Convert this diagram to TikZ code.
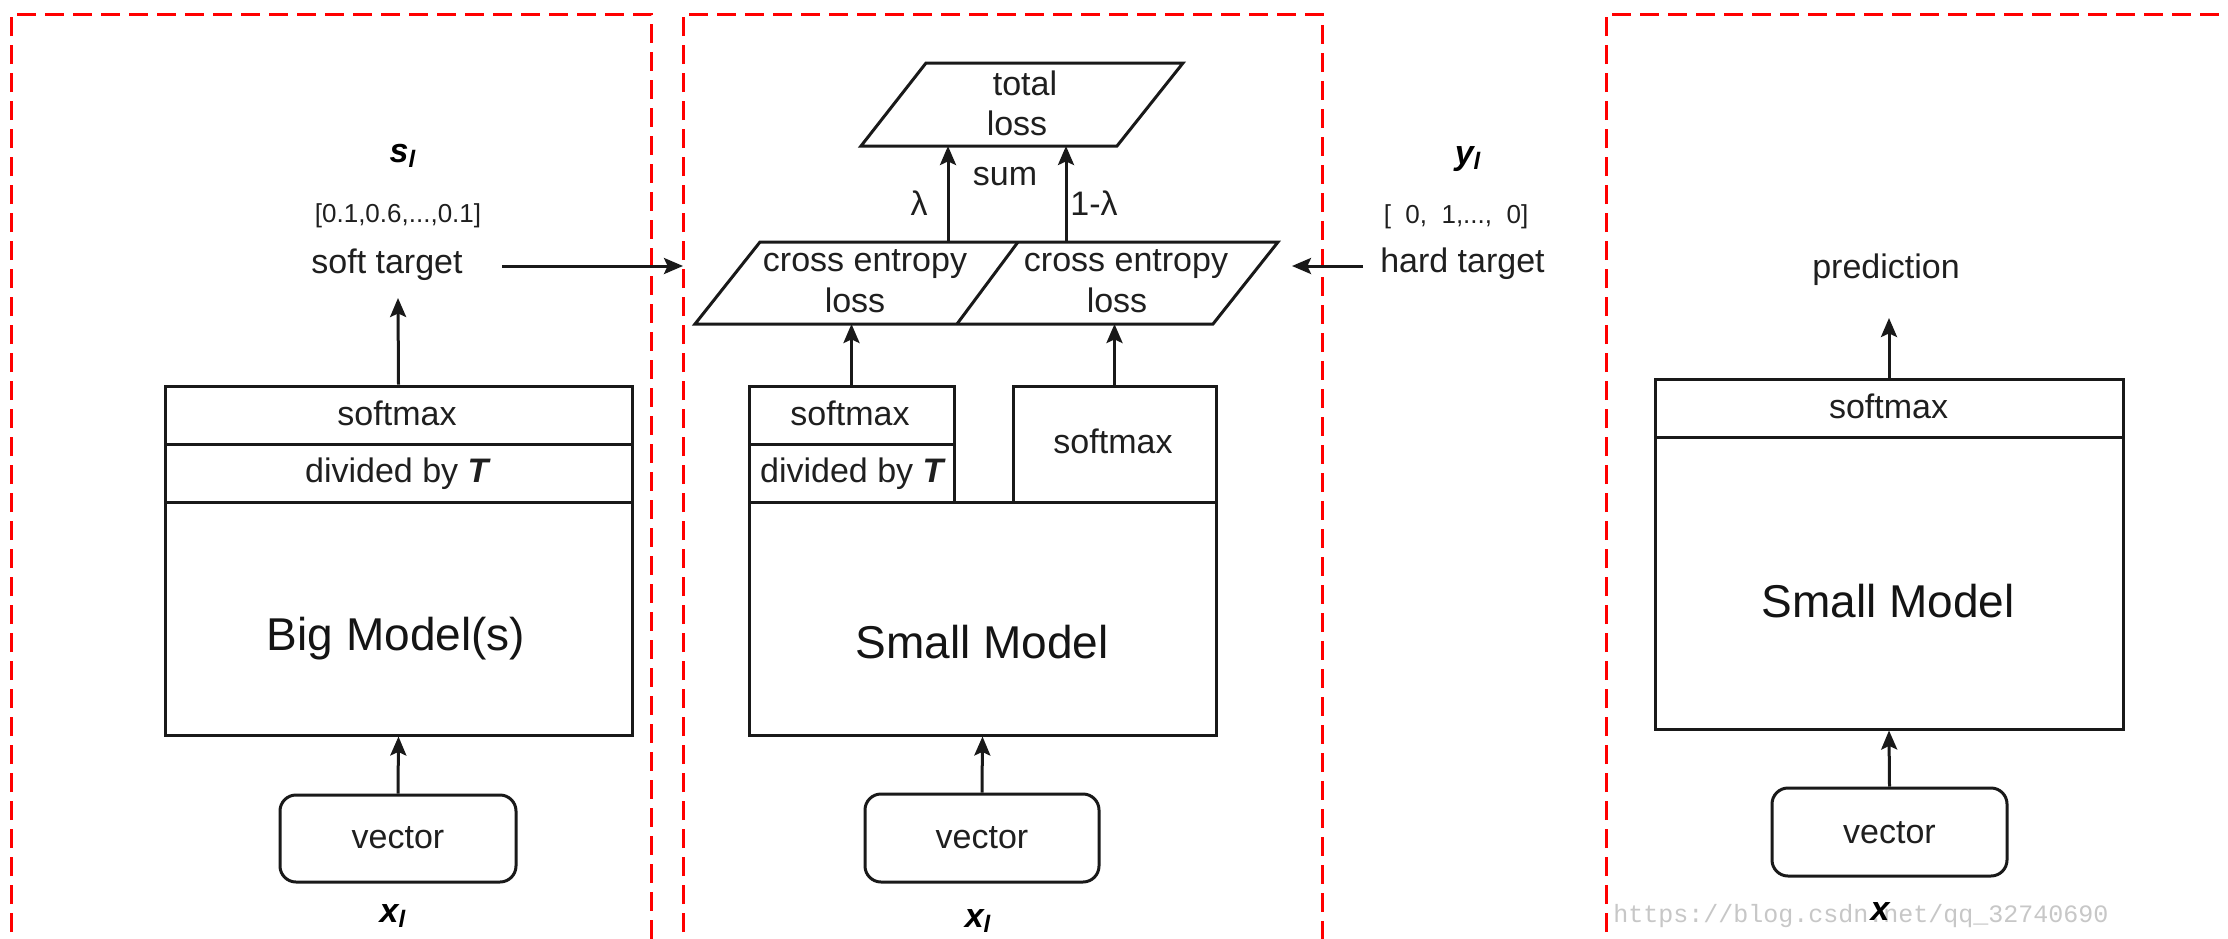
\documentclass[tikz,border=0pt]{standalone}
\usepackage{fontspec}
\setmainfont{Liberation Sans}
\newfontfamily\wmfont{Liberation Mono}
\usetikzlibrary{arrows.meta,fit}
\begin{document}
\begin{tikzpicture}[x=0.5pt,y=-0.5pt,
  ln/.style={line width=1.5pt, draw=black!90},
  arr/.style={ln, -{Stealth[length=9.5pt,width=8pt,inset=1.8pt]}},
  frame/.style={draw=red, line width=1.5pt, dash pattern=on 9.5pt off 4.5pt},
  box/.style={draw=black!90, line width=1.5pt, inner sep=0pt},
  vecbox/.style={box, rounded corners=8pt},
  txt/.style={font=\fontsize{17pt}{20pt}\selectfont, inner sep=0pt, anchor=base, text=black!88},
  smalltxt/.style={font=\fontsize{13pt}{15pt}\selectfont, inner sep=0pt, anchor=base, text=black!88},
  bigtxt/.style={font=\fontsize{23pt}{27pt}\selectfont, inner sep=0pt, anchor=base, text=black!92},
  vartxt/.style={font=\fontsize{17pt}{20pt}\selectfont\bfseries\itshape, inner sep=0pt, anchor=base},
  wm/.style={font=\fontsize{12.5pt}{14pt}\selectfont\wmfont, inner sep=0pt, anchor=base, text=black!22},
]
\useasboundingbox (0,0) rectangle (2228,938);
\fill[white] (0,0) rectangle (2228,938);
\clip (0,0) rectangle (2228,938);

% dashed frames
\draw[frame] (11,960) -- (11,14) -- (651,14) -- (651,960);
\draw[frame] (683,960) -- (683,14) -- (1322,14) -- (1322,960);
\draw[frame] (1606,960) -- (1606,14) -- (2260,14);

% ---------- left panel ----------
\node[box, fit={(165,386)(632,444)}] (bsm) {};
\node[box, fit={(165,444)(632,502)}] (bdiv) {};
\node[box, fit={(165,502)(632,735)}] (bmod) {};
\node[vecbox, fit={(280,795)(516,882)}] (bvec) {};
\node[txt] (bsmt) at (397,425) {softmax};
\node[txt] (bdivt) at (398,482) {divided by \textbf{\textit{T}}};
\node[bigtxt] (bmodt) at (396,650) {Big Model(s)};
\node[txt] (bvect) at (398,848) {vector};
\node[vartxt] (bx) at (393,922) {x\textsubscript{l}};
\node[vartxt] (bs) at (403,162) {s\textsubscript{l}};
\node[smalltxt] (bsv) at (398,222) {[0.1,0.6,...,0.1]};
\node[txt] (soft) at (387,273) {soft target};
\coordinate (softTip) at (398,298);
\coordinate (softR) at (502,266);
\coordinate (mLeft) at (683,266);
\draw[arr] (bvec.north) -- (bmod.south);
\draw[arr] (bsm.north) -- (softTip);
\draw[arr] (softR) -- (mLeft);

% ---------- middle panel ----------
\draw[ln] (926,63) -- (1183,63) -- (1117,146) -- (861,146) -- cycle;
\node[txt] (tl1) at (1025,95) {total};
\node[txt] (tl2) at (1017,135) {loss};
\draw[ln] (760,242) -- (1278,242) -- (1213,324) -- (695,324) -- cycle;
\draw[ln] (1018,242) -- (957,324);
\node[txt] (ce1a) at (865,271) {cross entropy};
\node[txt] (ce1b) at (855,312) {loss};
\node[txt] (ce2a) at (1126,271) {cross entropy};
\node[txt] (ce2b) at (1117,312) {loss};
\coordinate (ceTopL) at (948,242);
\coordinate (ceTopR) at (1066,242);
\coordinate (tlBotL) at (948,146);
\coordinate (tlBotR) at (1066,146);
\coordinate (ceBotL) at (851.5,324);
\coordinate (ceBotR) at (1114.5,324);
\coordinate (ceRight) at (1292,266);
\draw[arr] (ceTopL) -- (tlBotL);
\draw[arr] (ceTopR) -- (tlBotR);
\node[txt] (lam) at (919,215) {λ};
\node[txt] (sum) at (1005,185) {sum};
\node[txt] (lam2) at (1094,215) {1-λ};

\node[box, fit={(749,386)(954,444)}] (msm) {};
\node[box, fit={(749,444)(954,502)}] (mdiv) {};
\node[box, fit={(1013,386)(1216,502)}] (msm2) {};
\node[box, fit={(749,502)(1216,735)}] (mmod) {};
\node[vecbox, fit={(865,794)(1099,882)}] (mvec) {};
\node[txt] (msmt) at (850,425) {softmax};
\node[txt] (mdivt) at (853,482) {divided by \textbf{\textit{T}}};
\node[txt] (msm2t) at (1113,453) {softmax};
\node[bigtxt] (mmodt) at (982,658) {Small Model};
\node[txt] (mvect) at (982,848) {vector};
\node[vartxt] (mx) at (978,927) {x\textsubscript{l}};
\draw[arr] (msm.north) -- (ceBotL);
\draw[arr] (msm2.north) -- (ceBotR);
\draw[arr] (mvec.north) -- (mmod.south);

% hard target
\node[vartxt] (ys) at (1468,164) {y\textsubscript{l}};
\node[smalltxt] (ysv) at (1456,223) {[\ \ 0,\ \ 1,...,\ \ 0]};
\node[txt] (hard) at (1462.5,272) {hard target};
\coordinate (hardL) at (1363,266);
\draw[arr] (hardL) -- (ceRight);

% ---------- right panel ----------
\node[box, fit={(1655,379)(2123,437)}] (rsm) {};
\node[box, fit={(1655,437)(2123,729)}] (rmod) {};
\node[vecbox, fit={(1772,788)(2007,876)}] (rvec) {};
\node[txt] (rsmt) at (1888.5,418) {softmax};
\node[bigtxt] (rmodt) at (1888,617) {Small Model};
\node[txt] (rvect) at (1889.5,843) {vector};
\node[txt] (pred) at (1886,278) {prediction};
\coordinate (predTip) at (1889,318);
\draw[arr] (rsm.north) -- (predTip);
\draw[arr] (rvec.north) -- (rmod.south);
\node[wm] (wmark) at (1861,922) {https://blog.csdn.net/qq\_32740690};
\node[vartxt] (rx) at (1880,920) {x};
\end{tikzpicture}
\end{document}
